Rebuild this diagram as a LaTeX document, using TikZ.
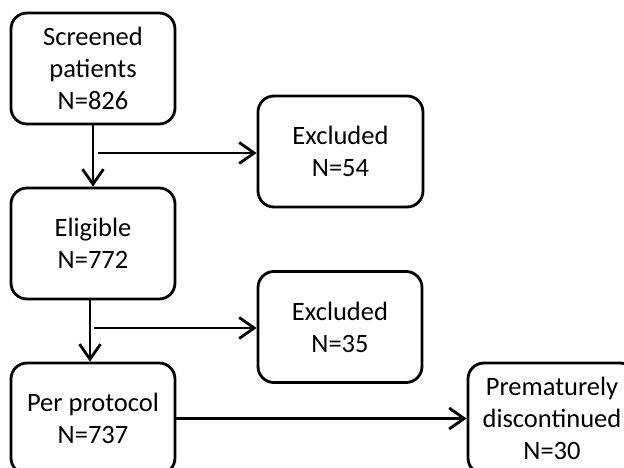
\documentclass[tikz,border=0pt]{standalone}
\usepackage{fontspec}
\setmainfont{Carlito}
\usetikzlibrary{arrows.meta}
\begin{document}
\begin{tikzpicture}[x=1pt,y=-1pt,
  box/.style={draw, line width=2.8pt, rounded corners=16pt, minimum width=164pt, minimum height=111pt, align=center, inner sep=0pt, font=\fontsize{26.5}{32}\selectfont},
  arr/.style={line width=2.8pt, -{Straight Barb[length=15pt,width=21pt]}}]
\useasboundingbox (0,0) rectangle (624,468);
\node[box] (b1) at (93,68.5) {Screened\\patients\\N=826};
\node[box, minimum width=165pt] (x1) at (340.5,151.5) {Excluded\\N=54};
\node[box] (b2) at (93,243.5) {Eligible\\N=772};
\node[box] (x2) at (340,327) {Excluded\\N=35};
\node[box] (b3) at (93,418.5) {Per protocol\\N=737};
\node[box, minimum width=168pt] (b4) at (552,418.5) {Prematurely\\discontinued\\N=30};
\draw[arr] (b1.south) -- (b2.north);
\coordinate (j1) at (98,153);
\draw[arr] (j1) -- (j1 -| x1.west);
\draw[arr] ([xshift=-3pt]b2.south) -- ([xshift=-3pt]b3.north);
\coordinate (j2) at (94,328);
\draw[arr] (j2) -- (j2 -| x2.west);
\draw[arr] (b3.east) -- (b4.west);
\end{tikzpicture}
\end{document}
